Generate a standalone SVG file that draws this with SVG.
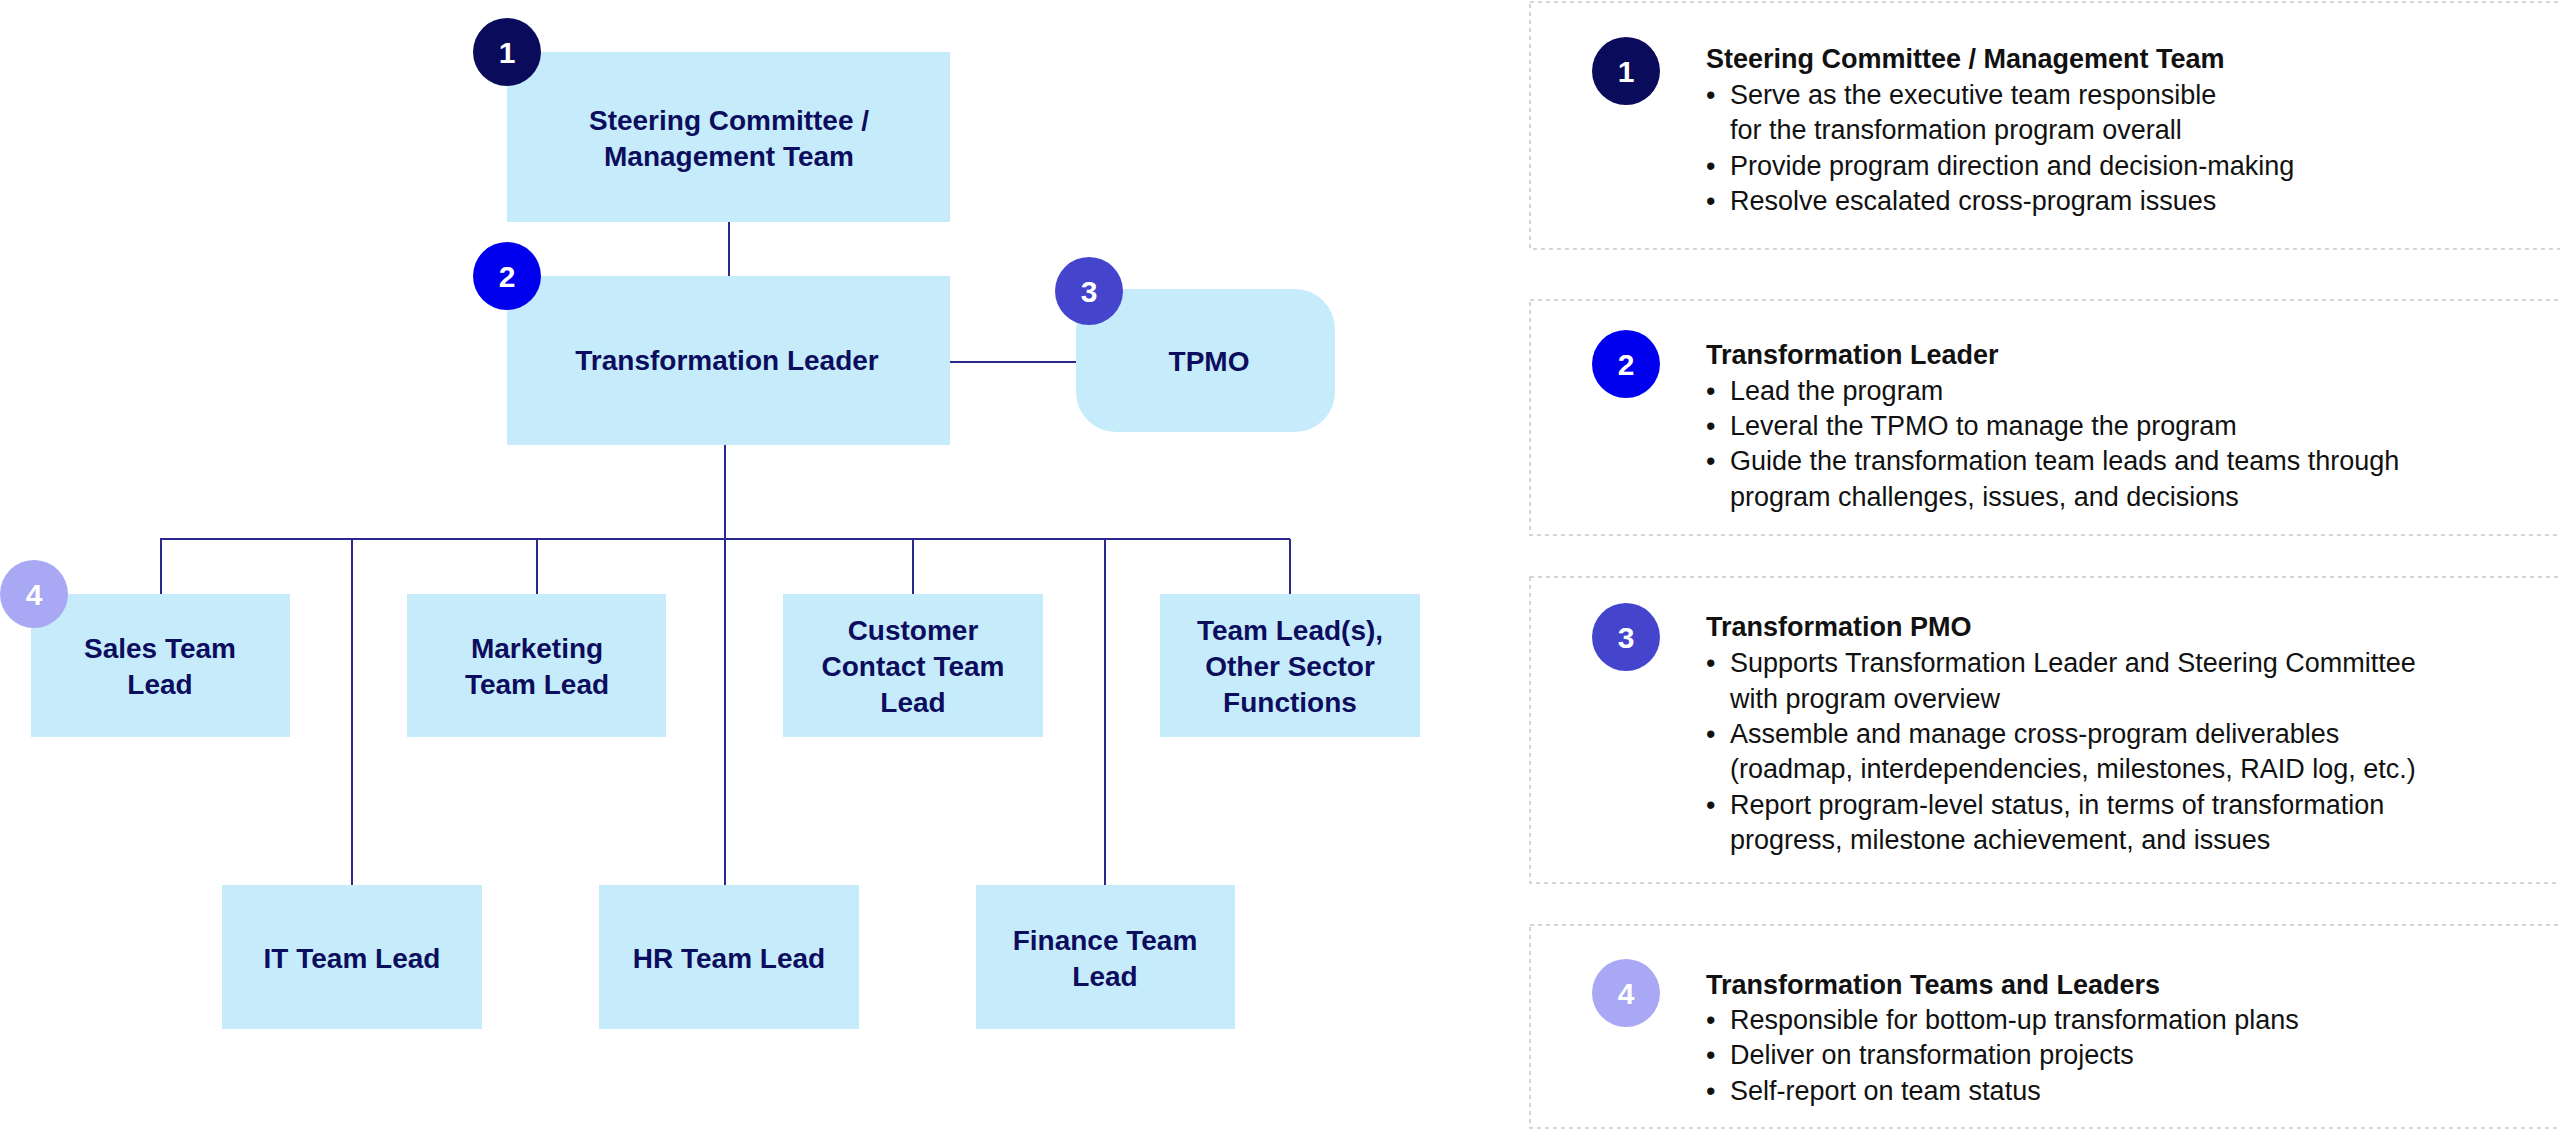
<svg xmlns="http://www.w3.org/2000/svg" width="2560" height="1130" viewBox="0 0 2560 1130">
<style>
.box{fill:#c6ecfb}
.nt{font-family:"Liberation Sans",Arial,sans-serif;font-weight:bold;font-size:28px;fill:#0d0d5e;text-anchor:middle}
.num{font-family:"Liberation Sans",Arial,sans-serif;font-weight:bold;font-size:30px;fill:#fff;text-anchor:middle}
.ln{stroke:#2a2a8c;stroke-width:2;fill:none}
.panel{fill:none;stroke:#c8c8c8;stroke-width:1.5;stroke-dasharray:4 4}
.h{font-family:"Liberation Sans",Arial,sans-serif;font-weight:bold;font-size:27px;fill:#111}
.t{font-family:"Liberation Sans",Arial,sans-serif;font-size:27px;fill:#111}
</style>
<rect width="2560" height="1130" fill="#fff"/>
<g id="connectors" class="ln">
<line x1="729" y1="222" x2="729" y2="276"/>
<line x1="950" y1="362" x2="1076" y2="362"/>
<line x1="725" y1="445" x2="725" y2="885"/>
<line x1="160" y1="539" x2="1290" y2="539"/>
<line x1="161" y1="539" x2="161" y2="594"/>
<line x1="352" y1="539" x2="352" y2="885"/>
<line x1="537" y1="539" x2="537" y2="594"/>
<line x1="913" y1="539" x2="913" y2="594"/>
<line x1="1105" y1="539" x2="1105" y2="885"/>
<line x1="1290" y1="539" x2="1290" y2="594"/>
</g>
<g id="steering"><rect class="box" x="507" y="52" width="443" height="170"/><text class="nt" x="729" y="130">Steering Committee /</text><text class="nt" x="729" y="166">Management Team</text><circle cx="507" cy="52" r="34" fill="#0b0b5c"/><text class="num" x="507" y="63">1</text></g>
<g id="leader"><rect class="box" x="507" y="276" width="443" height="169"/><text class="nt" x="727" y="370">Transformation Leader</text><circle cx="507" cy="276" r="34" fill="#0000ee"/><text class="num" x="507" y="287">2</text></g>
<g id="tpmo"><rect class="box" x="1076" y="289" width="259" height="143" rx="40"/><text class="nt" x="1209" y="371">TPMO</text><circle cx="1089" cy="291" r="34" fill="#4444cc"/><text class="num" x="1089" y="302">3</text></g>
<g id="sales"><rect class="box" x="31" y="594" width="259" height="143"/><text class="nt" x="160" y="658">Sales Team</text><text class="nt" x="160" y="694">Lead</text><circle cx="34" cy="594" r="34" fill="#a8a8f5"/><text class="num" x="34" y="605">4</text></g>
<g id="marketing"><rect class="box" x="407" y="594" width="259" height="143"/><text class="nt" x="537" y="658">Marketing</text><text class="nt" x="537" y="694">Team Lead</text></g>
<g id="customer"><rect class="box" x="783" y="594" width="260" height="143"/><text class="nt" x="913" y="640">Customer</text><text class="nt" x="913" y="676">Contact Team</text><text class="nt" x="913" y="712">Lead</text></g>
<g id="other"><rect class="box" x="1160" y="594" width="260" height="143"/><text class="nt" x="1290" y="640">Team Lead(s),</text><text class="nt" x="1290" y="676">Other Sector</text><text class="nt" x="1290" y="712">Functions</text></g>
<g id="it"><rect class="box" x="222" y="885" width="260" height="144"/><text class="nt" x="352" y="968">IT Team Lead</text></g>
<g id="hr"><rect class="box" x="599" y="885" width="260" height="144"/><text class="nt" x="729" y="968">HR Team Lead</text></g>
<g id="finance"><rect class="box" x="976" y="885" width="259" height="144"/><text class="nt" x="1105" y="950">Finance Team</text><text class="nt" x="1105" y="986">Lead</text></g>
<g id="panel1"><rect class="panel" x="1530" y="2" width="1040" height="247"/><circle cx="1626" cy="71" r="34" fill="#0b0b5c"/><text class="num" x="1626" y="82">1</text>
<text class="h" x="1706" y="68">Steering Committee / Management Team</text>
<text class="t" x="1706" y="104">•</text><text class="t" x="1730" y="104">Serve as the executive team responsible</text>
<text class="t" x="1730" y="139">for the transformation program overall</text>
<text class="t" x="1706" y="175">•</text><text class="t" x="1730" y="175">Provide program direction and decision-making</text>
<text class="t" x="1706" y="210">•</text><text class="t" x="1730" y="210">Resolve escalated cross-program issues</text></g>
<g id="panel2"><rect class="panel" x="1530" y="300" width="1040" height="235"/><circle cx="1626" cy="364" r="34" fill="#0000ee"/><text class="num" x="1626" y="375">2</text>
<text class="h" x="1706" y="364">Transformation Leader</text>
<text class="t" x="1706" y="400">•</text><text class="t" x="1730" y="400">Lead the program</text>
<text class="t" x="1706" y="435">•</text><text class="t" x="1730" y="435">Leveral the TPMO to manage the program</text>
<text class="t" x="1706" y="470">•</text><text class="t" x="1730" y="470">Guide the transformation team leads and teams through</text>
<text class="t" x="1730" y="506">program challenges, issues, and decisions</text></g>
<g id="panel3"><rect class="panel" x="1530" y="577" width="1040" height="306"/><circle cx="1626" cy="637" r="34" fill="#4444cc"/><text class="num" x="1626" y="648">3</text>
<text class="h" x="1706" y="636">Transformation PMO</text>
<text class="t" x="1706" y="672">•</text><text class="t" x="1730" y="672">Supports Transformation Leader and Steering Committee</text>
<text class="t" x="1730" y="708">with program overview</text>
<text class="t" x="1706" y="743">•</text><text class="t" x="1730" y="743">Assemble and manage cross-program deliverables</text>
<text class="t" x="1730" y="778">(roadmap, interdependencies, milestones, RAID log, etc.)</text>
<text class="t" x="1706" y="814">•</text><text class="t" x="1730" y="814">Report program-level status, in terms of transformation</text>
<text class="t" x="1730" y="849">progress, milestone achievement, and issues</text></g>
<g id="panel4"><rect class="panel" x="1530" y="925" width="1040" height="203"/><circle cx="1626" cy="993" r="34" fill="#a8a8f5"/><text class="num" x="1626" y="1004">4</text>
<text class="h" x="1706" y="994">Transformation Teams and Leaders</text>
<text class="t" x="1706" y="1029">•</text><text class="t" x="1730" y="1029">Responsible for bottom-up transformation plans</text>
<text class="t" x="1706" y="1064">•</text><text class="t" x="1730" y="1064">Deliver on transformation projects</text>
<text class="t" x="1706" y="1100">•</text><text class="t" x="1730" y="1100">Self-report on team status</text></g>
</svg>
